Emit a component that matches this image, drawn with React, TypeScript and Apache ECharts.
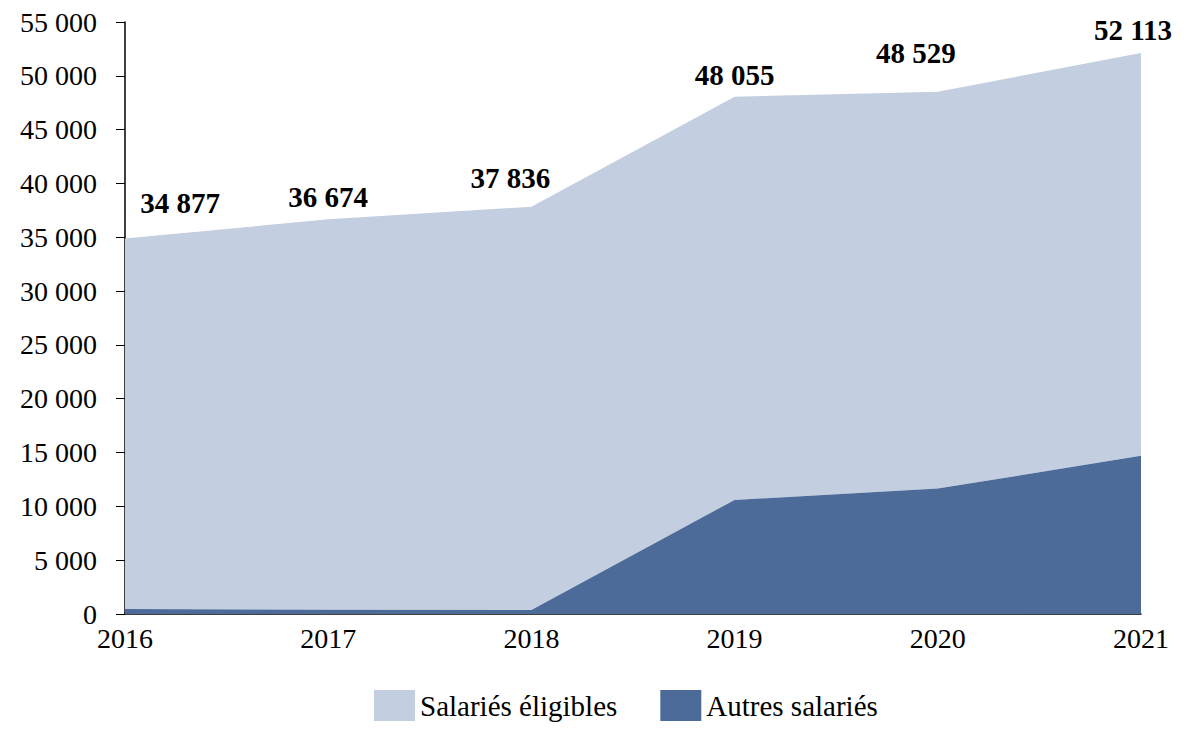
import React, { useEffect, useRef } from "react";
import * as echarts from "echarts";

const years = ["2016", "2017", "2018", "2019", "2020", "2021"];
const totals = [34877, 36674, 37836, 48055, 48529, 52113];
const autres = [470, 400, 380, 10600, 11650, 14700];
const eligibles = totals.map((t, i) => t - autres[i]);
const labelOffsets: [number, number][] = [
  [55, -36],
  [0, -22],
  [-21, -29],
  [0, -22],
  [-22, -39],
  [-8, -23],
];

const FONT = "'Liberation Serif', 'Times New Roman', serif";
const fmt = (v: number) => String(v).replace(/\B(?=(\d{3})+(?!\d))/g, " ");

export default function App() {
  const ref = useRef<HTMLDivElement>(null);
  useEffect(() => {
    const chart = echarts.init(ref.current!, null, { renderer: "svg" });
    chart.setOption({
      animation: false,
      textStyle: { fontFamily: FONT },
      grid: { left: 125, right: 59, top: 22, bottom: 128, containLabel: false },
      legend: {
        data: ["Salariés éligibles", "Autres salariés"],
        left: 374,
        top: 690,
        padding: 0,
        icon: "rect",
        itemWidth: 41,
        itemHeight: 31,
        itemGap: 43,
        textStyle: { fontFamily: FONT, fontSize: 29, color: "#000" },
      },
      xAxis: {
        type: "category",
        data: years,
        boundaryGap: false,
        axisLine: { lineStyle: { color: "#000", width: 1.5 } },
        axisTick: { show: false },
        axisLabel: { fontFamily: FONT, fontSize: 28, color: "#000", margin: 10 },
      },
      yAxis: {
        type: "value",
        min: 0,
        max: 55000,
        interval: 5000,
        splitLine: { show: false },
        axisLine: { show: true, lineStyle: { color: "#000", width: 1.5 } },
        axisTick: { show: true, length: 9, lineStyle: { color: "#000" } },
        axisLabel: {
          fontFamily: FONT,
          fontSize: 28,
          color: "#000",
          margin: 28,
          formatter: (v: number) => fmt(v),
        },
      },
      series: [
        {
          name: "Autres salariés",
          type: "line",
          stack: "total",
          data: autres,
          symbol: "none",
          lineStyle: { width: 0 },
          itemStyle: { color: "#4C6B99" },
          areaStyle: { color: "#4C6B99", opacity: 1 },
        },
        {
          name: "Salariés éligibles",
          type: "line",
          stack: "total",
          data: eligibles.map((v, i) => ({
            value: v,
            label: { offset: labelOffsets[i] },
          })),
          symbol: "circle",
          symbolSize: 0.01,
          showSymbol: true,
          lineStyle: { width: 0 },
          itemStyle: { color: "#C3CEE0" },
          areaStyle: { color: "#C3CEE0", opacity: 1 },
          label: {
            show: true,
            position: "inside",
            fontFamily: FONT,
            fontSize: 29,
            fontWeight: "bold",
            color: "#000",
            formatter: (p: any) => fmt(totals[p.dataIndex]),
          },
          z: 1,
        },
      ],
    });
    return () => chart.dispose();
  }, []);
  return <div ref={ref} style={{ width: 1200, height: 742, position: "absolute", left: 0, top: 0 }} />;
}
